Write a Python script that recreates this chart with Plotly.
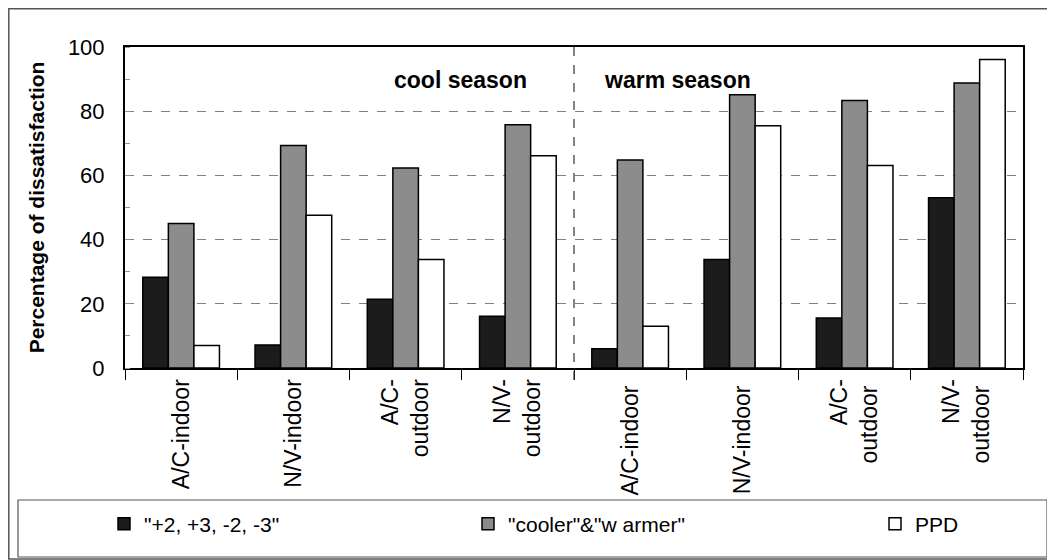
import plotly.graph_objects as go

categories = ["A/C-indoor", "N/V-indoor", "A/C-<br>outdoor", "N/V-<br>outdoor",
              "A/C-indoor ", "N/V-indoor ", "A/C-<br>outdoor ", "N/V-<br>outdoor "]
vote_extreme = [28.3, 7.2, 21.4, 16.1, 6.0, 33.8, 15.6, 53.0]
cooler_warmer = [45.0, 69.3, 62.3, 75.8, 64.8, 85.1, 83.3, 88.8]
ppd = [7.0, 47.6, 33.8, 66.1, 13.0, 75.5, 63.1, 96.1]
series_names = ['"+2, +3, -2, -3"', '"cooler"&"w armer"', 'PPD']
season_labels = ["cool season", "warm season"]
y_ticks = [0, 20, 40, 60, 80, 100]

FONT = "Liberation Sans, Arial, sans-serif"
colors = ["#1c1c1c", "#8c8c8c", "#ffffff"]
legends = ["legend", "legend2", "legend3"]

fig = go.Figure()
for name, vals, col, lg in zip(series_names, [vote_extreme, cooler_warmer, ppd], colors, legends):
    fig.add_trace(go.Bar(x=categories, y=vals, name=name,
                         marker=dict(color=col, line=dict(color="#000", width=1.5)),
                         legend=lg))

OFF = 8  # page body margin
W, H = 1047, 552
L, R, T, B = 117, 32, 39, 192
pw, ph = W - L - R, H - T - B


def px(x):
    return (x - OFF - L) / pw


def py(y):
    return (H - B - (y - OFF)) / ph


legend_common = dict(orientation="h", yanchor="middle", xanchor="left", bgcolor="rgba(0,0,0,0)",
                     font=dict(family=FONT, size=21, color="#000"), itemwidth=30)

fig.update_layout(
    width=W, height=H,
    margin=dict(l=L, r=R, t=T, b=B),
    paper_bgcolor="white", plot_bgcolor="white",
    barmode="group", bargap=0.317, bargroupgap=0,
    font=dict(family=FONT, size=21, color="#000"),
    showlegend=True,
    legend=dict(x=px(104), y=py(524), **legend_common),
    legend2=dict(x=px(468), y=py(524), **legend_common),
    legend3=dict(x=px(875), y=py(524), **legend_common),
    xaxis=dict(type="category", tickangle=-90, tickson="boundaries", ticks="outside", ticklen=10,
               tickcolor="#000", showline=True, linecolor="#000", linewidth=2, mirror=True,
               tickfont=dict(family=FONT, size=23, color="#000"), showgrid=False),
    yaxis=dict(range=[0, 100], tickvals=y_ticks, showline=True, linecolor="#000", linewidth=2, mirror=True,
               showgrid=True, gridcolor="#808080", griddash="dash", gridwidth=1, zeroline=False,
               ticks="", ticklabelstandoff=14,
               minor=dict(ticks="inside", ticklen=5, tickcolor="#999", dtick=10, showgrid=False),
               tickfont=dict(family=FONT, size=22, color="#000"),
               title=dict(text="Percentage of dissatisfaction", standoff=18,
                          font=dict(family=FONT, size=21, color="#000", weight="bold"))),
)

# season divider
fig.add_shape(type="line", xref="x", yref="paper", x0=3.5, x1=3.5, y0=py(380), y1=1,
              line=dict(color="#333", width=1.2, dash="dash"))
# season labels
for txt, cx in zip(season_labels, [460, 677]):
    fig.add_annotation(text=txt, xref="paper", yref="paper", x=px(cx), y=py(80),
                       xanchor="center", yanchor="middle", showarrow=False,
                       font=dict(family=FONT, size=23, color="#000", weight="bold"))
# outer frame and legend box
fig.add_shape(type="rect", xref="paper", yref="paper", x0=px(8.8), x1=px(1053), y0=py(559), y1=py(8.8),
              line=dict(color="#555", width=1.5), layer="below")
fig.add_shape(type="rect", xref="paper", yref="paper", x0=px(18), x1=px(1047), y0=py(557), y1=py(500),
              line=dict(color="#555", width=1.2), layer="below")

fig.write_html("out.html")
